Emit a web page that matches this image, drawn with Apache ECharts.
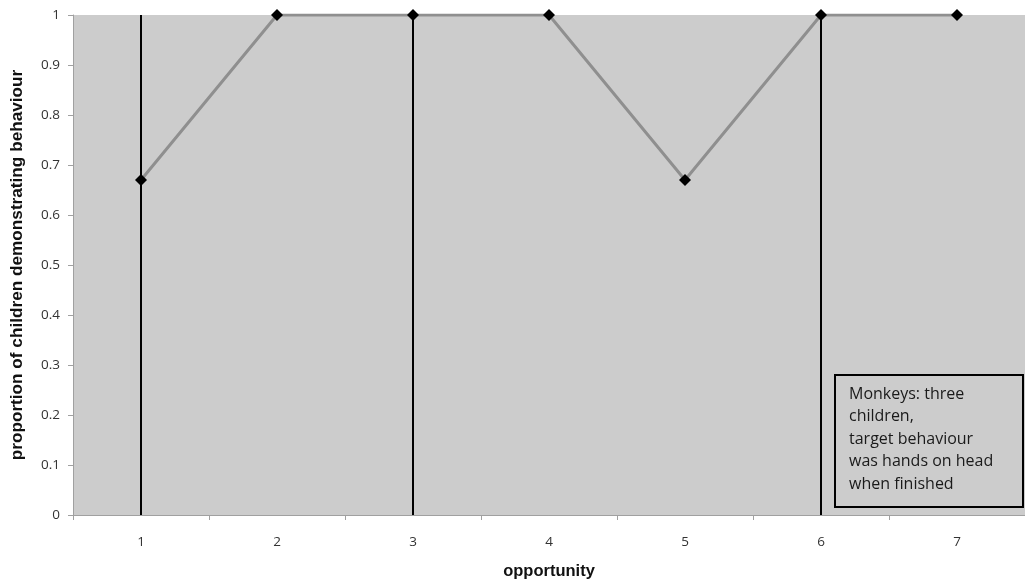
<!DOCTYPE html>
<html>
<head>
<meta charset="utf-8">
<script src="https://cdn.jsdelivr.net/npm/echarts@6/dist/echarts.min.js"></script>
<style>
html,body{margin:0;padding:0;background:#fff;}
#c{width:1025px;height:585px;}
</style>
</head>
<body>
<div id="c"></div>
<script>
var categories = ['1','2','3','4','5','6','7'];
var proportions = [0.67, 1, 1, 1, 0.67, 1, 1];
var markerCategories = ['1','3','6'];
var noteLines = ['Monkeys: three', 'children,', 'target behaviour', 'was hands on head', 'when finished'];
var xName = 'opportunity';
var yName = 'proportion of children demonstrating behaviour';

var chart = echarts.init(document.getElementById('c'));
var labelFont = 'Open Sans';
chart.setOption({
  animation: false,
  grid: {
    left: 73, right: -6, top: 15, bottom: 69,
    show: true, backgroundColor: '#cccccc', borderWidth: 0
  },
  xAxis: {
    type: 'category',
    data: categories,
    boundaryGap: true,
    name: xName,
    nameLocation: 'middle',
    nameGap: 48,
    nameTextStyle: {fontFamily: 'Liberation Sans', fontWeight: 'bold', fontSize: 16.5, color: '#111'},
    axisLine: {lineStyle: {color: '#a0a0a0', width: 1}},
    axisTick: {show: true, length: 5, lineStyle: {color: '#a0a0a0'}},
    axisLabel: {fontFamily: labelFont, fontSize: 13.5, color: '#333', margin: 20},
    splitLine: {show: false}
  },
  yAxis: {
    type: 'value',
    min: 0, max: 1, interval: 0.1,
    name: yName,
    nameLocation: 'middle',
    nameGap: 47,
    nameTextStyle: {fontFamily: 'Liberation Sans', fontWeight: 'bold', fontSize: 17.2, color: '#111'},
    axisLine: {show: true, lineStyle: {color: '#a0a0a0', width: 1}},
    axisTick: {show: true, length: 5, lineStyle: {color: '#a0a0a0'}},
    axisLabel: {fontFamily: labelFont, fontSize: 13.5, color: '#333', margin: 13,
      formatter: function(v){ return String(Math.round(v*10)/10); }},
    splitLine: {show: false}
  },
  series: [{
    type: 'line',
    data: proportions,
    symbol: 'diamond',
    symbolSize: 12,
    itemStyle: {color: '#000'},
    lineStyle: {color: '#8f8f8f', width: 3},
    z: 3,
    markLine: {
      silent: true,
      symbol: 'none',
      label: {show: false},
      lineStyle: {color: '#000', width: 2, type: 'solid'},
      data: markerCategories.map(function(c){ return {xAxis: c}; }),
      z: 2
    }
  }],
  graphic: [{
    type: 'group',
    left: 834, top: 374,
    children: [{
      type: 'rect',
      shape: {x: 0, y: 0, width: 188, height: 132},
      style: {fill: '#cccccc', stroke: '#000', lineWidth: 2}
    }, {
      type: 'text',
      left: 14, top: 8,
      style: {
        text: noteLines.join('\n'),
        font: '16px "Open Sans"',
        lineHeight: 22.5,
        fill: '#1a1a1a'
      }
    }]
  }]
});
</script>
</body>
</html>
